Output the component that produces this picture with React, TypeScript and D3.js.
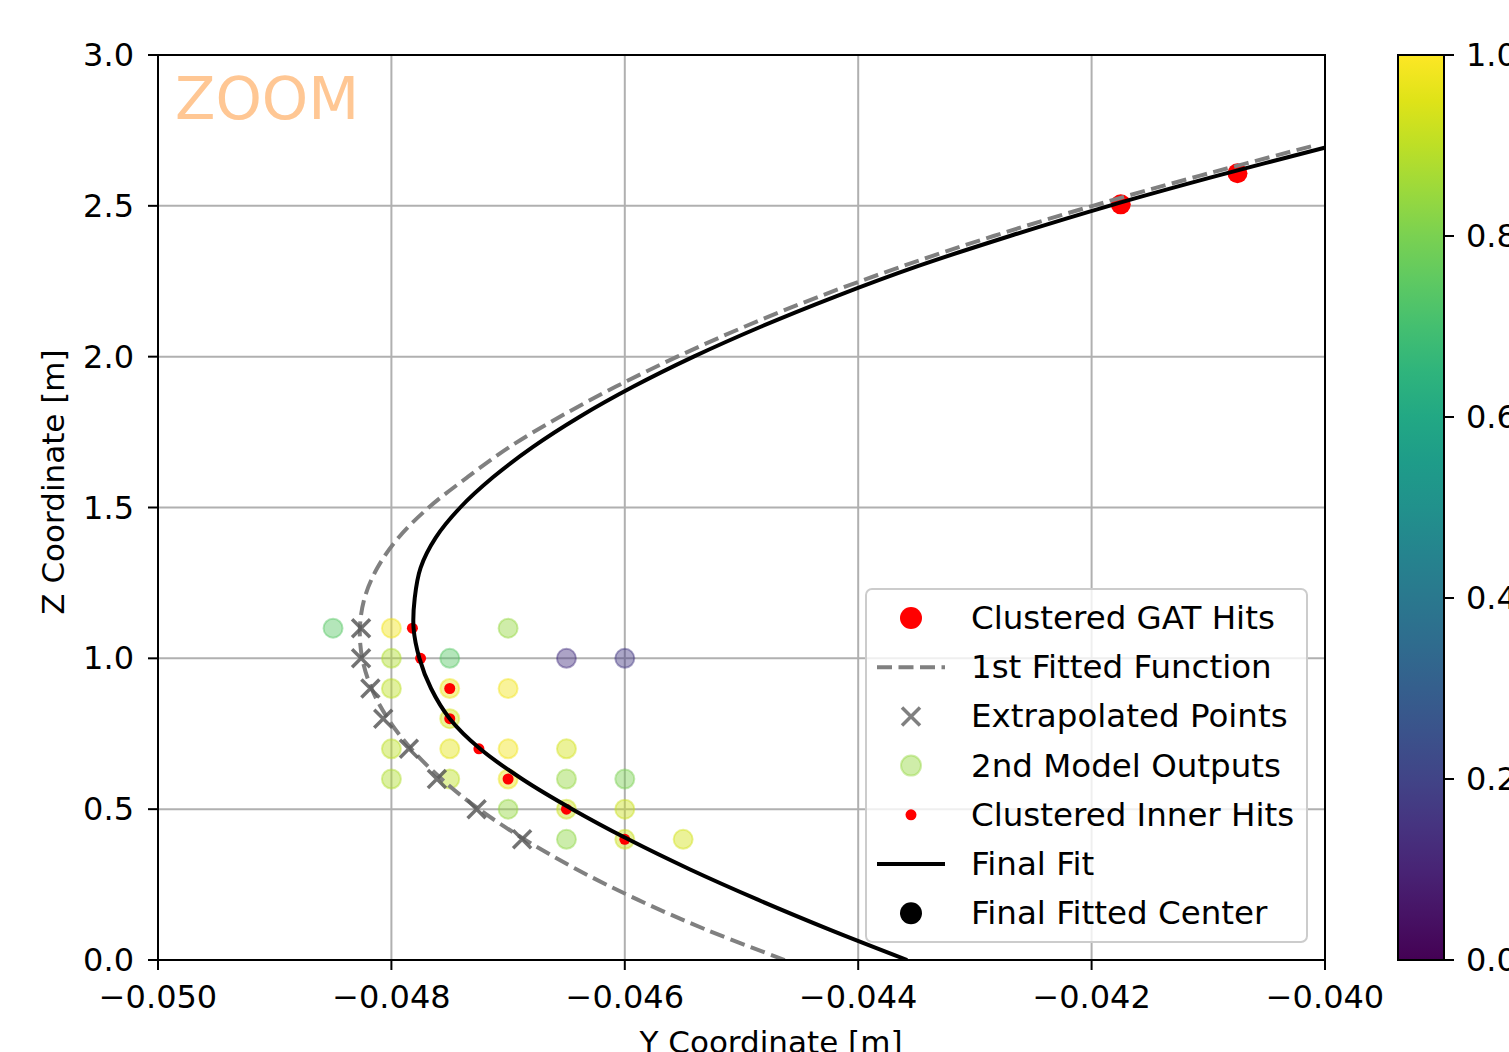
import React, { useEffect, useRef } from 'react';
import * as d3 from 'd3';

// Y coordinate [m], Z coordinate [m]
const gatHitsY = [-0.04175, -0.04075];
const gatHitsZ = [2.505, 2.608];

const firstFitY = [-0.04463, -0.04530, -0.04589, -0.04641, -0.04686, -0.04725, -0.04757, -0.04783, -0.04803, -0.04817, -0.04825, -0.04827, -0.04823, -0.04812, -0.04794, -0.04768, -0.04735, -0.04699, -0.04656, -0.04608, -0.04555, -0.04497, -0.04433, -0.04362, -0.04284, -0.04199, -0.04107, -0.04009];
const firstFitZ = [0.0, 0.1, 0.2, 0.3, 0.4, 0.5, 0.6, 0.7, 0.8, 0.9, 1.0, 1.1, 1.2, 1.3, 1.4, 1.5, 1.6, 1.7, 1.8, 1.9, 2.0, 2.1, 2.2, 2.3, 2.4, 2.5, 2.6, 2.7];

const extrapY = [-0.04826, -0.04826, -0.04818, -0.04807, -0.04785, -0.04761, -0.04727, -0.04688];
const extrapZ = [1.1, 1.0, 0.9, 0.8, 0.7, 0.6, 0.5, 0.4];

const modelY = [-0.0470, -0.0485, -0.0480, -0.0480, -0.0475, -0.0465, -0.0460, -0.0480, -0.0475, -0.0470, -0.0475, -0.0480, -0.0475, -0.0470, -0.0465, -0.0480, -0.0475, -0.0470, -0.0465, -0.0460, -0.0470, -0.0465, -0.0460, -0.0465, -0.0460, -0.0455];
const modelZ = [1.1, 1.1, 1.1, 1.0, 1.0, 1.0, 1.0, 0.9, 0.9, 0.9, 0.8, 0.7, 0.7, 0.7, 0.7, 0.6, 0.6, 0.6, 0.6, 0.6, 0.5, 0.5, 0.5, 0.4, 0.4, 0.4];
const modelScore = [0.84, 0.74, 0.98, 0.88, 0.74, 0.15, 0.17, 0.90, 0.97, 0.98, 0.93, 0.90, 0.96, 0.98, 0.93, 0.88, 0.90, 0.97, 0.84, 0.80, 0.84, 0.92, 0.92, 0.83, 0.92, 0.93];

const innerY = [-0.04782, -0.04775, -0.0475, -0.0475, -0.04725, -0.0470, -0.0465, -0.0460];
const innerZ = [1.1, 1.0, 0.9, 0.8, 0.7, 0.6, 0.5, 0.4];

const finalFitY = [-0.04358, -0.04424, -0.04486, -0.04544, -0.04597, -0.04645, -0.04688, -0.04724, -0.04750, -0.04766, -0.04776, -0.04781, -0.04780, -0.04775, -0.04762, -0.04741, -0.04713, -0.04679, -0.04639, -0.04593, -0.04541, -0.04483, -0.04419, -0.04349, -0.04270, -0.04185, -0.04092, -0.03993];
const finalFitZ = [0.0, 0.1, 0.2, 0.3, 0.4, 0.5, 0.6, 0.7, 0.8, 0.9, 1.0, 1.1, 1.2, 1.3, 1.4, 1.5, 1.6, 1.7, 1.8, 1.9, 2.0, 2.1, 2.2, 2.3, 2.4, 2.5, 2.6, 2.7];

// fitted center lies outside the zoomed window
const centerY = [-0.0525];
const centerZ = [1.2];

const xTicks = [-0.050, -0.048, -0.046, -0.044, -0.042, -0.040];
const yTicks = [0.0, 0.5, 1.0, 1.5, 2.0, 2.5, 3.0];
const cbTicks = [0.0, 0.2, 0.4, 0.6, 0.8, 1.0];

const legendLabels = ['Clustered GAT Hits', '1st Fitted Function', 'Extrapolated Points', '2nd Model Outputs', 'Clustered Inner Hits', 'Final Fit', 'Final Fitted Center'];

const FONT = 'DejaVu Sans, sans-serif';

const App = () => {
  const svgRef = useRef<SVGSVGElement | null>(null);

  useEffect(() => {
    if (!svgRef.current) return;
    d3.select(svgRef.current).selectAll('*').remove();

    const width = 1509;
    const height = 1052;
    const m = { left: 158, right: 1325, top: 55, bottom: 960 };

    const svg = d3.select(svgRef.current)
      .attr('width', width)
      .attr('height', height)
      .style('background', '#fff');

    const x = d3.scaleLinear().domain([-0.050, -0.040]).range([m.left, m.right]);
    const y = d3.scaleLinear().domain([0, 3]).range([m.bottom, m.top]);
    const color = d3.scaleSequential(d3.interpolateViridis).domain([0, 1]);

    svg.append('defs').append('clipPath').attr('id', 'plotclip')
      .append('rect')
      .attr('x', m.left).attr('y', m.top)
      .attr('width', m.right - m.left).attr('height', m.bottom - m.top);

    // grid
    const grid = svg.append('g');
    xTicks.forEach(t => {
      grid.append('line')
        .attr('x1', x(t)).attr('x2', x(t))
        .attr('y1', m.top).attr('y2', m.bottom)
        .attr('stroke', '#b0b0b0').attr('stroke-width', 2);
    });
    yTicks.forEach(t => {
      grid.append('line')
        .attr('x1', m.left).attr('x2', m.right)
        .attr('y1', y(t)).attr('y2', y(t))
        .attr('stroke', '#b0b0b0').attr('stroke-width', 2);
    });

    const plot = svg.append('g').attr('clip-path', 'url(#plotclip)');

    // scatter collections
    gatHitsY.forEach((v, i) => {
      plot.append('circle')
        .attr('cx', x(v)).attr('cy', y(gatHitsZ[i]))
        .attr('r', 10).attr('fill', '#ff0000');
    });

    modelY.forEach((v, i) => {
      const c = color(modelScore[i]);
      plot.append('circle')
        .attr('cx', x(v)).attr('cy', y(modelZ[i]))
        .attr('r', 9.5)
        .attr('fill', c).attr('fill-opacity', 0.45)
        .attr('stroke', c).attr('stroke-opacity', 0.45).attr('stroke-width', 2);
    });

    innerY.forEach((v, i) => {
      plot.append('circle')
        .attr('cx', x(v)).attr('cy', y(innerZ[i]))
        .attr('r', 5.5).attr('fill', '#ff0000');
    });

    centerY.forEach((v, i) => {
      plot.append('circle')
        .attr('cx', x(v)).attr('cy', y(centerZ[i]))
        .attr('r', 10).attr('fill', '#000');
    });

    // lines
    const line = d3.line<[number, number]>()
      .x(d => x(d[0]))
      .y(d => y(d[1]))
      .curve(d3.curveCatmullRom.alpha(0.5));

    plot.append('path')
      .datum(firstFitY.map((v, i) => [v, firstFitZ[i]] as [number, number]))
      .attr('d', line)
      .attr('fill', 'none')
      .attr('stroke', '#808080')
      .attr('stroke-width', 4)
      .attr('stroke-dasharray', '15,6.5');

    extrapY.forEach((v, i) => {
      const cx = x(v);
      const cy = y(extrapZ[i]);
      const s = 9;
      plot.append('path')
        .attr('d', `M${cx - s},${cy - s}L${cx + s},${cy + s}M${cx - s},${cy + s}L${cx + s},${cy - s}`)
        .attr('stroke', '#5a5a5a')
        .attr('stroke-opacity', 0.85)
        .attr('stroke-width', 3.5);
    });

    plot.append('path')
      .datum(finalFitY.map((v, i) => [v, finalFitZ[i]] as [number, number]))
      .attr('d', line)
      .attr('fill', 'none')
      .attr('stroke', '#000')
      .attr('stroke-width', 4);

    // ZOOM label
    svg.append('text')
      .attr('x', 175).attr('y', 119)
      .attr('font-family', FONT)
      .attr('font-size', 59)
      .attr('fill', '#ffc794')
      .text('ZOOM');

    // spines
    svg.append('rect')
      .attr('x', m.left).attr('y', m.top)
      .attr('width', m.right - m.left).attr('height', m.bottom - m.top)
      .attr('fill', 'none').attr('stroke', '#000').attr('stroke-width', 2);

    // ticks
    xTicks.forEach(t => {
      svg.append('line')
        .attr('x1', x(t)).attr('x2', x(t))
        .attr('y1', m.bottom).attr('y2', m.bottom + 10)
        .attr('stroke', '#000').attr('stroke-width', 2);
      svg.append('text')
        .attr('x', x(t)).attr('y', m.bottom + 48)
        .attr('text-anchor', 'middle')
        .attr('font-family', FONT).attr('font-size', 32)
        .attr('fill', '#000')
        .text(d3.format('.3f')(t).replace('-', '\u2212'));
    });
    yTicks.forEach(t => {
      svg.append('line')
        .attr('x1', m.left - 10).attr('x2', m.left)
        .attr('y1', y(t)).attr('y2', y(t))
        .attr('stroke', '#000').attr('stroke-width', 2);
      svg.append('text')
        .attr('x', m.left - 24).attr('y', y(t) + 11)
        .attr('text-anchor', 'end')
        .attr('font-family', FONT).attr('font-size', 32)
        .attr('fill', '#000')
        .text(d3.format('.1f')(t));
    });

    svg.append('text')
      .attr('x', 771).attr('y', 1053)
      .attr('text-anchor', 'middle')
      .attr('font-family', FONT).attr('font-size', 31)
      .attr('fill', '#000')
      .text('Y Coordinate [m]');

    svg.append('text')
      .attr('transform', 'translate(64,482) rotate(-90)')
      .attr('text-anchor', 'middle')
      .attr('font-family', FONT).attr('font-size', 31)
      .attr('fill', '#000')
      .text('Z Coordinate [m]');

    // legend
    const lg = svg.append('g');
    lg.append('rect')
      .attr('x', 866).attr('y', 589)
      .attr('width', 441).attr('height', 353)
      .attr('rx', 6)
      .attr('fill', '#fff').attr('fill-opacity', 0.8)
      .attr('stroke', '#cccccc').attr('stroke-width', 2);

    const rowY = (i: number) => 618 + i * 49.2;
    const hx = 911;
    legendLabels.forEach((lab, i) => {
      const cy = rowY(i);
      if (i === 0) {
        lg.append('circle').attr('cx', hx).attr('cy', cy).attr('r', 11).attr('fill', '#ff0000');
      } else if (i === 1) {
        lg.append('line').attr('x1', 877).attr('x2', 945).attr('y1', cy).attr('y2', cy)
          .attr('stroke', '#808080').attr('stroke-width', 4).attr('stroke-dasharray', '15,6.5');
      } else if (i === 2) {
        const s = 9;
        lg.append('path')
          .attr('d', `M${hx - s},${cy - s}L${hx + s},${cy + s}M${hx - s},${cy + s}L${hx + s},${cy - s}`)
          .attr('stroke', '#808080').attr('stroke-width', 3.5);
      } else if (i === 3) {
        const c = color(modelScore[0]);
        lg.append('circle').attr('cx', hx).attr('cy', cy).attr('r', 10)
          .attr('fill', c).attr('fill-opacity', 0.45)
          .attr('stroke', c).attr('stroke-opacity', 0.45).attr('stroke-width', 2);
      } else if (i === 4) {
        lg.append('circle').attr('cx', hx).attr('cy', cy).attr('r', 5.5).attr('fill', '#ff0000');
      } else if (i === 5) {
        lg.append('line').attr('x1', 877).attr('x2', 945).attr('y1', cy).attr('y2', cy)
          .attr('stroke', '#000').attr('stroke-width', 4);
      } else {
        lg.append('circle').attr('cx', hx).attr('cy', cy).attr('r', 11).attr('fill', '#000');
      }
      lg.append('text')
        .attr('x', 971).attr('y', cy + 11)
        .attr('font-family', FONT).attr('font-size', 32.5)
        .attr('fill', '#000')
        .text(lab);
    });

    // colorbar
    const cb = { x: 1398, w: 46, top: 55, bottom: 960 };
    const cy = d3.scaleLinear().domain([0, 1]).range([cb.bottom, cb.top]);
    const grad = svg.select('defs').append('linearGradient')
      .attr('id', 'viridis').attr('x1', 0).attr('x2', 0).attr('y1', 1).attr('y2', 0);
    d3.range(0, 1.0001, 0.05).forEach(s => {
      grad.append('stop').attr('offset', s).attr('stop-color', color(s));
    });
    svg.append('rect')
      .attr('x', cb.x).attr('y', cb.top)
      .attr('width', cb.w).attr('height', cb.bottom - cb.top)
      .attr('fill', 'url(#viridis)')
      .attr('stroke', '#000').attr('stroke-width', 2);
    cbTicks.forEach(t => {
      svg.append('line')
        .attr('x1', cb.x + cb.w).attr('x2', cb.x + cb.w + 10)
        .attr('y1', cy(t)).attr('y2', cy(t))
        .attr('stroke', '#000').attr('stroke-width', 2);
      svg.append('text')
        .attr('x', cb.x + cb.w + 22).attr('y', cy(t) + 11)
        .attr('font-family', FONT).attr('font-size', 32)
        .attr('fill', '#000')
        .text(d3.format('.1f')(t));
    });
  }, []);

  return (
    <div style={{ position: 'fixed', left: 0, top: 0, width: 1509, height: 1052, overflow: 'hidden' }}>
      <svg ref={svgRef}></svg>
    </div>
  );
};

export default App;
